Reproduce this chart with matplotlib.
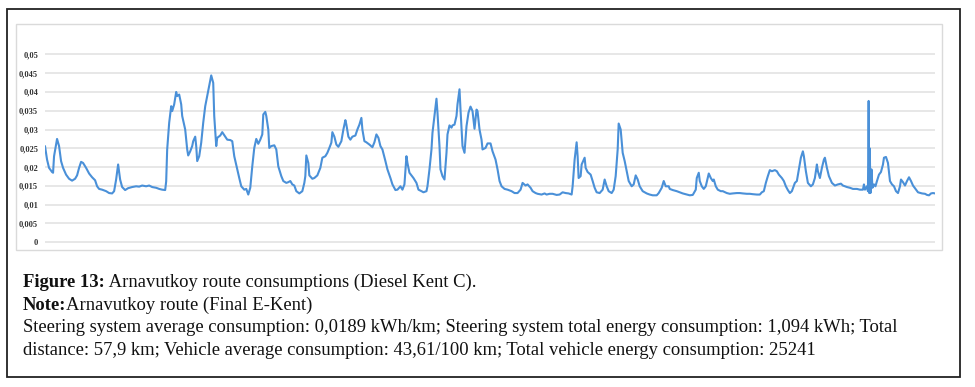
import matplotlib.pyplot as plt
from matplotlib.patches import Rectangle

plt.rcParams['font.family'] = 'Liberation Serif'

# steering consumption along the route (sample index, kWh/km)
sample = [
    0, 2, 4, 7, 8, 9, 11, 12, 14, 16, 18, 21, 24, 27, 30, 32, 34, 36, 38, 41,
    44, 47, 50, 52, 54, 57, 61, 64, 67, 69, 71, 73, 75, 77, 80, 83, 87, 91, 94, 97,
    101, 104, 107, 111, 114, 117, 120, 121, 122, 124,
    126, 127, 129, 131, 132, 134, 136, 137, 140, 142, 143, 145, 147, 148, 150, 151,
    152, 154, 156, 158, 160, 162, 164, 166, 168, 169, 171, 172, 175, 177, 180, 182,
    185, 187, 189, 192, 194, 196, 199, 201, 203, 205, 207, 209, 211, 213, 215, 217,
    218, 220, 221, 223, 224, 226, 229, 231, 233, 236, 238, 241, 243, 245, 247, 249,
    251, 254, 257, 259, 260, 261, 263, 264, 267, 269, 272, 275, 277, 280, 282, 284,
    286, 287, 289, 291, 293, 296, 298, 300, 301, 303, 305, 307, 310, 312, 314, 316,
    317, 319, 321, 324, 327, 329, 331, 333, 335, 337, 340, 342, 345, 347, 350, 352,
    355, 357, 359, 361, 362, 364, 366, 368, 371, 373,
    376, 378, 381, 382, 384, 386, 387, 389, 391, 392, 394, 395, 397, 399, 401, 402,
    404, 406, 407, 409, 411, 412, 414, 415, 417, 419, 421, 423, 425, 427, 429, 431,
    432, 434, 436, 437, 440, 442, 445, 447, 450, 452, 454, 456, 459, 462, 466, 469,
    472, 475, 477, 480, 482, 485, 487, 490, 492, 496, 499,
    501, 504, 507, 511, 514, 517, 520, 523, 526, 527, 529, 531, 532, 533, 535, 536,
    539, 540, 542, 545, 547, 549, 551, 554, 557, 559, 561, 563, 566, 568, 570, 572,
    573, 575, 576, 577, 579, 581, 583, 586, 588, 590, 592, 594, 597, 601, 604, 607,
    611, 613, 616, 618, 620, 623,
    624, 627, 631, 634, 637, 641, 644, 647, 650, 651, 653, 654, 656, 658, 660, 662,
    663, 665, 667, 668, 670, 672, 675, 677, 681, 684, 687, 691, 694, 697, 701, 704,
    707, 711, 714, 716, 718, 720, 722, 724, 726, 729, 731, 733, 736, 738, 740, 742,
    744, 746, 749,
    751, 753, 755, 757, 758, 760, 762, 765, 767, 769, 771, 772, 774, 776, 778, 779,
    781, 783, 786, 789, 792, 795, 797, 801, 804, 807, 811, 814, 817, 818, 819, 821,
    822, 822.7, 823.3, 823.8, 824.5, 825.5, 826.5, 828, 829.5, 831, 833, 835, 837, 838,
    840, 842, 844, 846, 848, 850, 852, 854, 855, 857, 859, 861, 863, 865, 867, 870,
    872, 876, 879, 881, 883, 885, 887, 889,
]
consumption = [
    .0255, .022, .0198, .0187, .0185, .0229, .026, .0275, .0256, .0216, .0198, .018, .0169, .0164, .0169, .0178, .0198, .0214, .0211, .0198,
    .0183, .0173, .0165, .0149, .0142, .014, .0136, .0131, .013, .0136, .0167, .0207, .0167, .0147, .0139, .0144, .0147, .0149, .0148, .0151,
    .0149, .0151, .0147, .0145, .0142, .014, .0139, .0162, .0247, .0318,
    .0362, .0349, .0367, .0400, .0389, .0393, .0367, .0336, .0300, .0247, .0231, .0242, .0256, .0269, .0281, .0256,
    .0216, .0229, .0265, .0318, .0362, .0389, .0416, .0444, .0424, .0336, .0256, .0278, .0284, .0293, .0281, .0273,
    .0272, .0269, .0229, .0194, .0171, .0149, .0140, .0142, .0127, .0145, .0202, .0251, .0275, .0262, .0273, .0287,
    .0340, .0347, .0336, .0300, .0251, .0256, .0258, .0247, .0202, .0176, .0163, .0158, .0160, .0163, .0154, .0151,
    .0136, .0130, .0136, .0158, .0176, .0231, .0211, .0178, .0169, .0171, .0178, .0198, .0225, .0229, .0238, .0251,
    .0265, .0293, .0281, .0260, .0254, .0269, .0300, .0325, .0313, .0281, .0273, .0281, .0284, .0300, .0313, .0331,
    .0300, .0269, .0266, .0260, .0253, .0266, .0287, .0278, .0256, .0247, .0216, .0194, .0171, .0154, .0139, .0140,
    .0149, .0140, .0154, .0229, .0211, .0185, .0178, .0171, .0158, .0140,
    .0136, .0133, .0136, .0149, .0194, .0247, .0291, .0336, .0382, .0345, .0256, .0194, .0176, .0167, .0238, .0287,
    .0311, .0305, .0311, .0313, .0336, .0367, .0407, .0353, .0256, .0238, .0309, .0345, .0361, .0349, .0302, .0353,
    .0349, .0300, .0273, .0247, .0251, .0263, .0263, .0242, .0220, .0194, .0163, .0149, .0142, .0140, .0136, .0131,
    .0131, .0140, .0158, .0151, .0154, .0145, .0136, .0131, .0129, .0127, .0130,
    .0127, .0129, .0129, .0126, .0127, .0133, .0131, .0130, .0127, .0149, .0220, .0266, .0229, .0171, .0176, .0207,
    .0225, .0198, .0187, .0180, .0163, .0145, .0133, .0131, .0140, .0167, .0149, .0136, .0131, .0140, .0176, .0247,
    .0316, .0300, .0269, .0238, .0216, .0189, .0163, .0149, .0154, .0178, .0167, .0149, .0136, .0130, .0127, .0125,
    .0125, .0131, .0145, .0163, .0149, .0149,
    .0142, .0139, .0136, .0133, .0130, .0127, .0125, .0126, .0140, .0171, .0185, .0163, .0149, .0142, .0149, .0171,
    .0183, .0171, .0163, .0167, .0149, .0140, .0136, .0136, .0131, .0129, .0130, .0131, .0131, .0130, .0129, .0129,
    .0128, .0127, .0127, .0133, .0136, .0158, .0176, .0192, .0189, .0192, .0189, .0180, .0171, .0163, .0149, .0139,
    .0131, .0136, .0158,
    .0163, .0194, .0225, .0242, .0229, .0189, .0158, .0149, .0154, .0171, .0207, .0189, .0171, .0198, .0220, .0225,
    .0198, .0176, .0158, .0151, .0154, .0156, .0151, .0147, .0145, .0142, .0142, .0140, .0140, .0154, .0140, .0149,
    .0136, .0376, .0131, .0250, .0131, .0194, .0145, .0154, .0149, .0163, .0180, .0187, .0207, .0225,
    .0227, .0211, .0163, .0154, .0149, .0136, .0131, .0149, .0167, .0160, .0151, .0163, .0173, .0163, .0151, .0140,
    .0133, .0130, .0129, .0126, .0125, .0130, .0131, .0130,
]

tick_values = [0, 0.005, 0.01, 0.015, 0.02, 0.025, 0.03, 0.035, 0.04, 0.045, 0.05]
tick_labels = ['0', '0,005', '0,01', '0,015', '0,02', '0,025', '0,03', '0,035', '0,04', '0,045', '0,05']

fig = plt.figure(figsize=(9.75, 3.87), dpi=100)

# outer frame and chart panel
fig.patches.append(Rectangle((0.0072, 0.0258), 0.9774, 0.951, transform=fig.transFigure,
                             fill=False, edgecolor='#222222', linewidth=1.3))
fig.patches.append(Rectangle((0.0164, 0.354), 0.9497, 0.584, transform=fig.transFigure,
                             fill=False, edgecolor='#dadada', linewidth=1.0))

ax = fig.add_axes([0.0462, 0.371, 0.9128, 0.4915])
ax.plot(sample, consumption, color='#4a90d8', linewidth=1.5)
ax.set_xlim(0, 889)
ax.set_ylim(-0.0003, 0.0503)
ax.set_yticks(tick_values)
ax.set_yticklabels(tick_labels, fontsize=6, fontweight='bold', color='#333333')
ax.set_xticks([])
ax.tick_params(axis='y', length=0, pad=5)
ax.grid(axis='y', color='#e3e3e3', linewidth=1.2)
ax.set_axisbelow(True)
for s in ax.spines.values():
    s.set_visible(False)

# caption
renderer = fig.canvas.get_renderer()
W = fig.get_figwidth() * fig.dpi
fs = 13.4
x0 = 0.0236

def rich(y, bold, rest):
    t = fig.text(x0, y, bold, fontsize=fs, fontweight='bold', va='baseline', color='#111111')
    x1 = t.get_window_extent(renderer).x1 / W
    fig.text(x1, y, rest, fontsize=fs, va='baseline', color='#111111')

rich(0.259, 'Figure 13:', ' Arnavutkoy route consumptions (Diesel Kent C).')
rich(0.199, 'Note:', 'Arnavutkoy route (Final E-Kent)')
fig.text(x0, 0.1413, 'Steering system average consumption: 0,0189 kWh/km; Steering system total energy '
         'consumption: 1,094 kWh; Total', fontsize=fs, va='baseline', color='#111111')
fig.text(x0, 0.0827, 'distance: 57,9 km; Vehicle average consumption: 43,61/100 km; Total vehicle '
         'energy consumption: 25241', fontsize=fs, va='baseline', color='#111111')

assert len(sample) == len(consumption)
fig.savefig('out.png', dpi=100)
